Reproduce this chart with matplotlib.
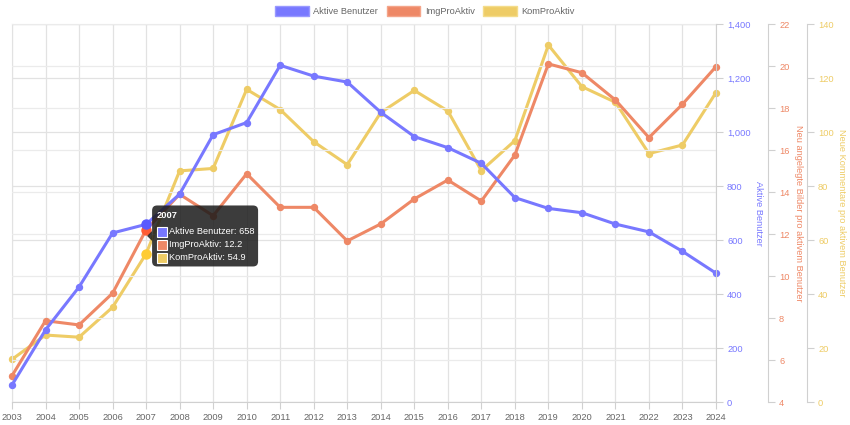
import matplotlib
matplotlib.use('Agg')
import matplotlib.pyplot as plt
from matplotlib.patches import Patch, FancyBboxPatch, Rectangle, Polygon
from matplotlib.ticker import FuncFormatter, MultipleLocator
from matplotlib.transforms import IdentityTransform

plt.rcParams['font.family'] = ['Liberation Sans', 'DejaVu Sans']

# data
years = list(range(2003, 2025))
aktive = [63, 267, 426, 626, 658, 770, 990, 1035, 1247, 1207, 1185, 1073,
          983, 942, 884, 757, 717, 701, 659, 630, 558, 477]
img_pro_aktiv = [5.25, 7.87, 7.67, 9.18, 12.2, 13.89, 12.87, 14.87, 13.27, 13.27, 11.67,
                 12.48, 13.67, 14.57, 13.57, 15.76, 20.1, 19.68, 18.38, 16.59, 18.18, 19.97]
kom_pro_aktiv = [15.8, 24.8, 24.0, 35.1, 54.9, 85.6, 86.5, 115.8, 108.3, 96.4, 87.9,
                 107.2, 115.4, 107.8, 85.7, 96.8, 132.2, 116.8, 111.0, 92.0, 95.2, 114.6]
hover_year = 2007

BLUE, RED, YEL = '#7878ff', '#ee8866', '#eecc66'
GRID, AXC, TXT = '#e2e2e2', '#d0d0d0', '#666666'
FS = 6.7

fig = plt.figure(figsize=(8.5, 4.25), dpi=100)
ax3 = fig.add_axes([12 / 850, 23 / 425, 704 / 850, 378 / 425])
ax2 = ax3.twinx()
ax = ax3.twinx()
ax3.set_zorder(1)
ax2.set_zorder(2)
ax.set_zorder(3)
ax2.patch.set_visible(False)
ax.patch.set_visible(False)

lw, ms = 2.2, 4.3
ax.plot(years, aktive, color=BLUE, lw=lw, marker='o', ms=ms, clip_on=False)
ax2.plot(years, img_pro_aktiv, color=RED, lw=lw, marker='o', ms=ms, clip_on=False)
ax3.plot(years, kom_pro_aktiv, color=YEL, lw=lw, marker='o', ms=ms, clip_on=False)

i = years.index(hover_year)
ax.plot(years[i], aktive[i], 'o', color='#5a5aff', ms=6.5, clip_on=False)
ax2.plot(years[i], img_pro_aktiv[i], 'o', color='#ff5c33', ms=6.5, clip_on=False)
ax3.plot(years[i], kom_pro_aktiv[i], 'o', color='#ffcc33', ms=6.5, clip_on=False)

for a in (ax, ax2, ax3):
    a.set_xlim(2003, 2024)
ax.set_ylim(0, 1400)
ax2.set_ylim(4, 22)
ax3.set_ylim(0, 140)

ax3.set_xticks(years)
ax3.tick_params(axis='x', colors=AXC, labelcolor=TXT, labelsize=FS, length=5, pad=3)
ax3.grid(True, color=GRID, lw=0.9)
ax3.yaxis.set_major_locator(MultipleLocator(20))
ax2.yaxis.set_major_locator(MultipleLocator(2))
ax2.grid(True, axis='y', color='#ebebeb', lw=0.9)
ax.yaxis.set_major_locator(MultipleLocator(200))
ax.yaxis.set_major_formatter(FuncFormatter(lambda v, p: f'{v:,.0f}'))

# right side axes
ax3.yaxis.tick_right()
ax3.spines['right'].set_position(('axes', (807 - 12) / 704))
ax2.spines['right'].set_position(('axes', (768 - 12) / 704))
for a, c, lab, lx in ((ax, BLUE, 'Aktive Benutzer', 1.061),
                      (ax2, RED, 'Neu angelegte Bilder pro aktivem Benutzer', 1.1165),
                      (ax3, YEL, 'Neue Kommentare pro aktivem Benutzer', 1.1776)):
    a.tick_params(axis='y', colors=AXC, labelcolor=c, labelsize=FS, length=5, pad=3)
    a.set_ylabel(lab, color=c, fontsize=FS, rotation=-90, va='center')
    a.yaxis.set_label_coords(lx, 0.5)
    for s in a.spines.values():
        s.set_color(AXC)
for s in ('top', 'left', 'bottom'):
    ax2.spines[s].set_visible(False)
    ax.spines[s].set_visible(False)
ax3.spines['left'].set_color(GRID)
ax3.spines['top'].set_color(GRID)
ax2.tick_params(axis='x', bottom=False, labelbottom=False)
ax.tick_params(axis='x', bottom=False, labelbottom=False)

# legend
handles = [Patch(facecolor=BLUE, edgecolor='#9999ff', label='Aktive Benutzer'),
           Patch(facecolor=RED, edgecolor='#f4a58a', label='ImgProAktiv'),
           Patch(facecolor=YEL, edgecolor='#f4dc8a', label='KomProAktiv')]
leg = fig.legend(handles=handles, loc='center', bbox_to_anchor=(425 / 850, 1 - 11 / 425),
                 ncol=3, frameon=False, fontsize=FS, handlelength=3.6, handleheight=1.3,
                 columnspacing=0.9, handletextpad=0.5, borderpad=0)
for t in leg.get_texts():
    t.set_color(TXT)

# tooltip for the hovered year
fig.canvas.draw()
px = ax.transData.transform((years[i], aktive[i]))[0]
ys = [ax.transData.transform((years[i], aktive[i]))[1],
      ax2.transData.transform((years[i], img_pro_aktiv[i]))[1],
      ax3.transData.transform((years[i], kom_pro_aktiv[i]))[1]]
cy = sum(ys) / 3
bx0, bw, bh = px + 6, 106, 61
by0 = cy - bh / 2
idt = IdentityTransform()
fig.add_artist(FancyBboxPatch((bx0, by0), bw, bh, boxstyle='round,pad=0,rounding_size=5',
                              facecolor='#1a1a1a', alpha=0.85, edgecolor='none',
                              transform=idt, zorder=10))
fig.add_artist(Polygon([(px + 1, cy), (bx0, cy + 5), (bx0, cy - 5)], closed=True,
                       facecolor='#1a1a1a', alpha=0.85, edgecolor='none',
                       transform=idt, zorder=10))
fig.text(bx0 + 5, by0 + bh - 10, str(hover_year), color='white', fontsize=FS,
         fontweight='bold', va='center', transform=idt, zorder=11)
rows = [(BLUE, f'Aktive Benutzer: {aktive[i]}'),
        (RED, f'ImgProAktiv: {img_pro_aktiv[i]}'),
        (YEL, f'KomProAktiv: {kom_pro_aktiv[i]}')]
for k, (c, s) in enumerate(rows):
    ry = by0 + bh - 26.5 - 13 * k
    fig.add_artist(Rectangle((bx0 + 5, ry - 5), 10, 10, facecolor=c, edgecolor='white',
                             lw=0.8, transform=idt, zorder=11))
    fig.text(bx0 + 17, ry, s, color='white', fontsize=FS, va='center',
             transform=idt, zorder=11)

fig.savefig('out.png', dpi=100)
